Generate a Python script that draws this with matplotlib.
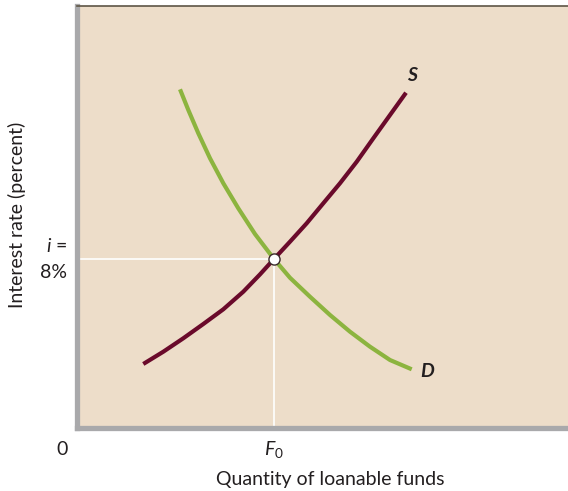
import numpy as np
import matplotlib
matplotlib.use("Agg")
import matplotlib.pyplot as plt

plt.rcParams['font.family'] = ['Lato', 'DejaVu Sans']
plt.rcParams['mathtext.fontset'] = 'custom'
plt.rcParams['mathtext.rm'] = 'Lato'
plt.rcParams['mathtext.it'] = 'Lato:italic'

# curves (quantity, interest rate) in 0-100 units
supply_x = [13.50, 17.58, 21.65, 25.72, 29.80, 33.87, 37.27, 40.12,
            43.38, 46.78, 50.16, 53.56, 56.97, 60.35, 63.75, 67.01]
supply_y = [15.17, 18.08, 21.26, 24.64, 28.13, 32.30, 36.40, 40.05,
            44.15, 48.51, 53.25, 57.99, 63.10, 68.65, 74.17, 79.45]
demand_x = [20.98, 22.67, 24.71, 27.09, 29.80, 32.85, 36.25, 40.12,
            43.38, 47.45, 51.53, 55.60, 59.67, 63.75, 68.17]
demand_y = [80.26, 75.36, 69.83, 63.91, 57.99, 52.06, 45.97, 40.05,
            35.60, 31.11, 26.78, 22.82, 19.27, 16.11, 13.91]
eq_x, eq_y = 40.1, 40.0

BG = '#EDDDC9'
GRAY = '#A9A9AB'
INK = '#231F20'
FS = 14

fig = plt.figure(figsize=(5.68, 4.91), dpi=100)
ax = fig.add_axes([77/568, 1-428/491, 1-77/568, 422/491])
ax.set_facecolor(BG)
ax.set_xlim(0, 100)
ax.set_ylim(0, 100)
ax.set_xticks([])
ax.set_yticks([])

ax.spines['right'].set_visible(False)
ax.spines['left'].set_color(GRAY)
ax.spines['left'].set_linewidth(3.8)
ax.spines['bottom'].set_color(GRAY)
ax.spines['bottom'].set_linewidth(3.8)
ax.spines['top'].set_color('#5E5546')
ax.spines['top'].set_linewidth(1.2)

# guide lines to the equilibrium
ax.plot([0, eq_x], [eq_y, eq_y], color='white', lw=1.2, zorder=2)
ax.plot([eq_x, eq_x], [0, eq_y], color='white', lw=1.2, zorder=2)

ax.plot(demand_x, demand_y, color='#8CB43F', lw=3.0, solid_capstyle='butt',
        solid_joinstyle='round', zorder=3)
ax.plot(supply_x, supply_y, color='#6A0A2B', lw=3.0, solid_capstyle='butt',
        solid_joinstyle='round', zorder=4)
ax.plot([eq_x], [eq_y], 'o', ms=8, mfc='white', mec='#3A2A2A', mew=1.0, zorder=5)

ax.text(68.2, 83.6, 'S', fontsize=FS, fontweight='bold', style='italic', ha='center', va='center', color=INK)
ax.text(71.3, 13.3, 'D', fontsize=FS, fontweight='bold', style='italic', ha='center', va='center', color=INK)

ax.text(-2.0, 43.1, r'$i$ =', fontsize=FS, ha='right', va='center', color=INK, clip_on=False)
ax.text(-2.0, 36.9, '8%', fontsize=FS, ha='right', va='center', color=INK, clip_on=False)
ax.text(-3.1, -5.0, '0', fontsize=FS, ha='center', va='center', color=INK, clip_on=False)
ax.text(eq_x, -5.0, r'$F_0$', fontsize=FS, ha='center', va='center', color=INK, clip_on=False)

fig.text(330/568, 1-480/491, 'Quantity of loanable funds', fontsize=FS, ha='center', va='center', color=INK)
fig.text(17/568, 1-215/491, 'Interest rate (percent)', fontsize=FS, rotation=90, ha='center', va='center', color=INK)

fig.savefig('out.png', dpi=100)
